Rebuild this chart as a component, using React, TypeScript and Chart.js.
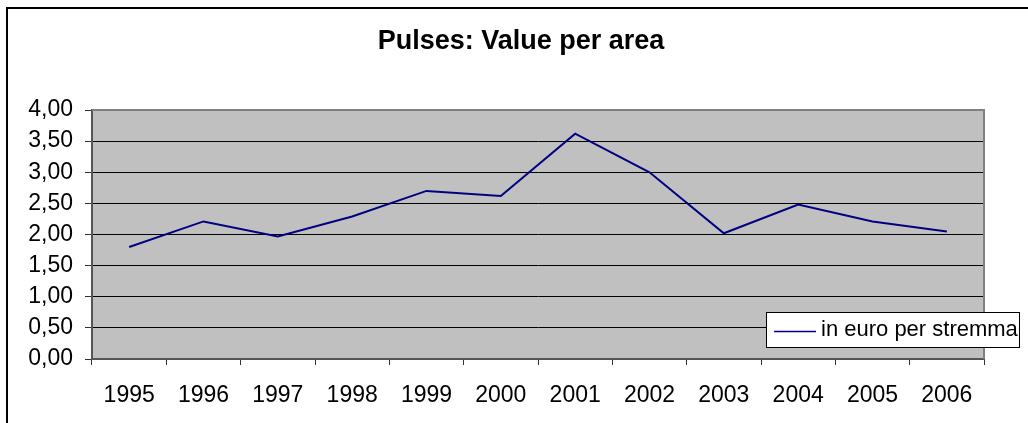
import React, { useEffect, useRef } from "react";
import { Chart, registerables } from "chart.js";

Chart.register(...registerables);

const title = "Pulses: Value per area";
const seriesLabel = "in euro per stremma";
const years = ["1995", "1996", "1997", "1998", "1999", "2000", "2001", "2002", "2003", "2004", "2005", "2006"];
const values = [1.8, 2.21, 1.97, 2.29, 2.7, 2.62, 3.62, 3.0, 2.02, 2.48, 2.21, 2.05];
const yMin = 0;
const yMax = 4;
const yStep = 0.5;

const FONT = "'Liberation Sans', Arial, sans-serif";

const framePlugin = {
  id: "frame",
  beforeDraw(chart: any) {
    const { ctx, chartArea } = chart;
    ctx.save();
    ctx.fillStyle = "#ffffff";
    ctx.fillRect(0, 0, chart.width, chart.height);
    ctx.strokeStyle = "#000000";
    ctx.lineWidth = 2;
    ctx.strokeRect(7, 8, chart.width + 20, chart.height + 20);
    ctx.fillStyle = "#c0c0c0";
    ctx.fillRect(chartArea.left, chartArea.top, chartArea.right - chartArea.left, chartArea.bottom - chartArea.top);
    ctx.fillStyle = "#000000";
    ctx.font = `bold 27px ${FONT}`;
    ctx.textAlign = "center";
    ctx.textBaseline = "middle";
    ctx.fillText(chart.options.plugins.frame.title, 521, 42);
    ctx.restore();
  },
  afterDatasetsDraw(chart: any) {
    const { ctx, chartArea } = chart;
    ctx.save();
    ctx.strokeStyle = "#808080";
    ctx.lineWidth = 2;
    ctx.beginPath();
    ctx.moveTo(chartArea.left, chartArea.top);
    ctx.lineTo(chartArea.right, chartArea.top);
    ctx.lineTo(chartArea.right, chartArea.bottom);
    ctx.stroke();
    ctx.restore();
  },
  afterDraw(chart: any) {
    const { ctx } = chart;
    const ds = chart.data.datasets[0];
    const bx = 766, by = 312, bw = 253, bh = 35;
    ctx.save();
    ctx.fillStyle = "#ffffff";
    ctx.fillRect(bx, by, bw, bh);
    ctx.strokeStyle = "#000000";
    ctx.lineWidth = 1;
    ctx.strokeRect(bx + 0.5, by + 0.5, bw, bh);
    ctx.strokeStyle = ds.borderColor;
    ctx.lineWidth = 1.5;
    ctx.beginPath();
    ctx.moveTo(bx + 8, by + 19.5);
    ctx.lineTo(bx + 50, by + 19.5);
    ctx.stroke();
    ctx.fillStyle = "#000000";
    ctx.font = `22px ${FONT}`;
    ctx.textBaseline = "middle";
    ctx.textAlign = "left";
    ctx.fillText(ds.label, bx + 55, by + 18);
    ctx.restore();
  },
};

export default function App() {
  const ref = useRef<HTMLCanvasElement>(null);
  useEffect(() => {
    document.body.style.margin = "0";
    const canvas = ref.current!;
    const chart = new Chart(canvas, {
      type: "line",
      data: {
        labels: years,
        datasets: [
          {
            label: seriesLabel,
            data: values,
            borderColor: "#000080",
            backgroundColor: "#000080",
            borderWidth: 2,
            pointRadius: 0,
            tension: 0,
            fill: false,
          },
        ],
      },
      options: {
        responsive: false,
        animation: false,
        layout: { padding: { left: 15, right: 44, top: 110, bottom: 0 } },
        plugins: {
          legend: { display: false },
          tooltip: { enabled: false },
          title: { display: false },
          frame: { title },
        } as any,
        scales: {
          x: {
            type: "category",
            offset: true,
            grid: {
              offset: true,
              drawOnChartArea: false,
              drawTicks: true,
              tickLength: 6,
              tickColor: "#333333",
              lineWidth: 1,
            },
            border: { display: true, color: "#555555", width: 2 },
            ticks: {
              color: "#000000",
              font: { family: FONT, size: 23 },
              padding: 17,
              maxRotation: 0,
              autoSkip: false,
            },
            afterFit(scale: any) {
              scale.height = 64;
            },
          },
          y: {
            min: yMin,
            max: yMax,
            grid: {
              color: (c: any) => (c.tick && c.tick.value === yMax ? "#808080" : "#000000"),
              lineWidth: 1,
              tickLength: 7,
              tickColor: "#333333",
            },
            border: { display: true, color: "#555555", width: 2 },
            ticks: {
              stepSize: yStep,
              color: "#000000",
              font: { family: FONT, size: 23 },
              padding: 12,
              callback: (v: any) => Number(v).toFixed(2).replace(".", ","),
            },
            afterFit(scale: any) {
              scale.width = 77;
            },
          },
        },
      },
      plugins: [framePlugin],
    });
    return () => chart.destroy();
  }, []);
  return (
    <div style={{ width: 1028, height: 423 }}>
      <canvas ref={ref} width={1028} height={423} style={{ display: "block" }} />
    </div>
  );
}
